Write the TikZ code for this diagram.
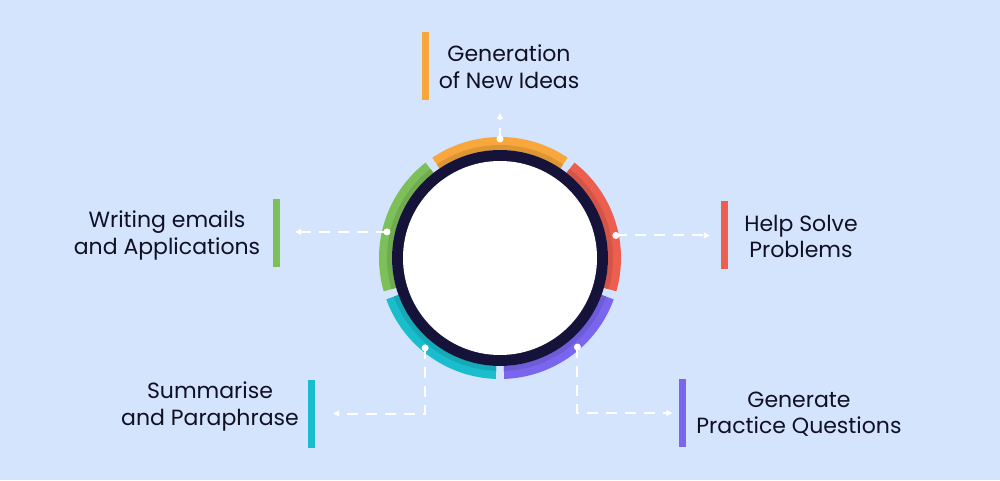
\documentclass[tikz,border=0pt]{standalone}
\usepackage{fontspec}
\setmainfont{Poppins}
\usetikzlibrary{arrows.meta}
\definecolor{bg}{HTML}{D3E4FC}
\definecolor{navy}{HTML}{16133A}
\definecolor{txt}{HTML}{101024}
\definecolor{cOrange}{HTML}{F7A73B}
\definecolor{cGreen}{HTML}{7DBF58}
\definecolor{cRed}{HTML}{EC5F4F}
\definecolor{cCyan}{HTML}{19BDCC}
\definecolor{cPurple}{HTML}{7A65EF}
\tikzset{
  bar/.style={fill=#1, draw=none, minimum width=7pt, minimum height=68pt, inner sep=0pt},
  lbl/.style={anchor=base, text=txt, inner sep=0pt, font=\fontsize{22pt}{26pt}\selectfont},
  dotw/.style={circle, fill=white, minimum size=7pt, inner sep=0pt},
  conn/.style={draw=white, line width=2pt, dash pattern=on 11pt off 8pt,
    -{Triangle[length=6pt,width=6pt]}},
}
\newcommand{\ringseg}[3]{%
  \fill[#3] (#1:121pt) arc[start angle=#1, end angle=#2, radius=121pt]
     -- (#2:108pt) arc[start angle=#2, end angle=#1, radius=108pt] -- cycle;
  \fill[#3!90!black] (#1:113pt) arc[start angle=#1, end angle=#2, radius=113pt]
     -- (#2:108pt) arc[start angle=#2, end angle=#1, radius=108pt] -- cycle;
}
\begin{document}
\begin{tikzpicture}[x=1pt,y=1pt]
\fill[bg] (0,0) rectangle (1000,480);
\useasboundingbox (0,0) rectangle (1000,480);

% ring
\begin{scope}[shift={(500,222)}]
  \ringseg{56}{124}{cOrange}
  \ringseg{128}{196}{cGreen}
  \ringseg{200}{268}{cCyan}
  \ringseg{272}{340}{cPurple}
  \ringseg{344}{412}{cRed}
  \fill[navy] (0,0) circle[radius=108pt];
  \fill[white] (0,0) circle[radius=97pt];
  \coordinate (pO) at (90:119pt);
  \coordinate (pG) at (167:116pt);
  \coordinate (pR) at (11:118pt);
  \coordinate (pC) at (230.2:117pt);
  \coordinate (pP) at (311:118pt);
\end{scope}

% bars
\node[bar=cOrange] (barO) at (425.5,414) {};
\node[bar=cGreen]  (barG) at (276.5,247) {};
\node[bar=cRed]    (barR) at (724.5,245.5) {};
\node[bar=cCyan]   (barC) at (311.5,66.5) {};
\node[bar=cPurple] (barP) at (682,67) {};

% labels
\node[lbl] (tO1) at (509,418) {Generation};
\node[lbl] (tO2) at (509,391) {of New Ideas};
\node[lbl] (tG1) at (167,253) {Writing emails};
\node[lbl] (tG2) at (167,226) {and Applications};
\node[lbl] (tR1) at (801,249) {Help Solve};
\node[lbl] (tR2) at (801,223) {Problems};
\node[lbl] (tC1) at (210,82) {Summarise};
\node[lbl] (tC2) at (210,55) {and Paraphrase};
\node[lbl] (tP1) at (799,73) {Generate};
\node[lbl] (tP2) at (799,47) {Practice Questions};

% connectors
\coordinate (endO) at (500,367);
\draw[conn] (pO) -- (endO);
\draw[conn, shorten >=15pt] (pG) -- (pG -| barG.east);
\draw[conn, shorten >=11pt] (pR) -- (pR -| barR.west);
\draw[conn, shorten >=18pt] (pC) |- (barC.east);
\draw[conn, shorten >=6pt] (pP) |- (barP.west);

% dots
\node[dotw] (dO) at (pO) {};
\node[dotw] (dG) at (pG) {};
\node[dotw] (dR) at (pR) {};
\node[dotw] (dC) at (pC) {};
\node[dotw] (dP) at (pP) {};
\end{tikzpicture}
\end{document}
